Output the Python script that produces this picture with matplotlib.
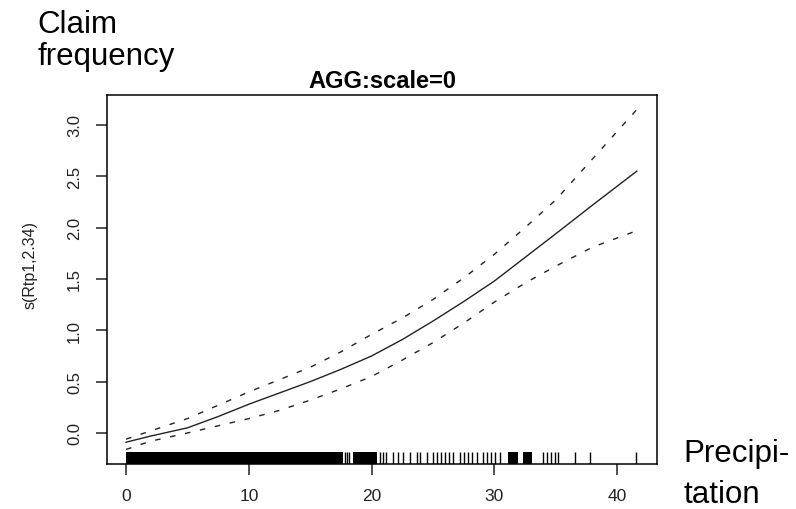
import matplotlib
matplotlib.use("Agg")
import matplotlib.pyplot as plt

plt.rcParams['font.family'] = ['Liberation Sans', 'DejaVu Sans']

# smooth term and its +-2se band
precip = [0, 1, 2, 3.5, 5, 7.5, 10, 12.5, 15, 17.5, 20, 22.5, 25, 27.5,
          30, 32.5, 35, 38, 41.6]
fit = [-0.09, -0.06, -0.03, 0.01, 0.05, 0.16, 0.28, 0.39, 0.50, 0.62, 0.75,
       0.91, 1.09, 1.28, 1.48, 1.71, 1.94, 2.22, 2.55]
upper = [-0.06, -0.02, 0.02, 0.08, 0.14, 0.27, 0.40, 0.52, 0.64, 0.79, 0.96,
         1.12, 1.30, 1.51, 1.74, 2.00, 2.27, 2.67, 3.15]
lower = [-0.16, -0.12, -0.08, -0.04, 0.00, 0.07, 0.14, 0.22, 0.32, 0.43,
         0.55, 0.71, 0.88, 1.07, 1.275, 1.46, 1.625, 1.81, 1.97]

# rug: solid runs of observations and single observations
rug_runs = [(0.0, 17.7), (18.5, 20.45), (31.1, 31.9), (32.3, 33.1)]
rug_ticks = [17.83, 18.0, 18.16, 20.68, 20.93, 21.17, 21.74, 22.15, 22.56,
             23.13, 23.70, 23.94, 24.51, 25.0, 25.33, 25.65, 25.98, 26.30,
             26.63, 27.2, 27.52, 27.85, 28.18, 28.58, 29.07, 29.4, 29.72,
             30.05, 30.46, 33.96, 34.28, 34.61, 34.94, 35.18, 36.56, 37.79,
             41.53]

xticks = [0, 10, 20, 30, 40]
yticks = [0.0, 0.5, 1.0, 1.5, 2.0, 2.5, 3.0]

W, H = 796, 510
fig = plt.figure(figsize=(W / 100, H / 100), dpi=100)
ax = fig.add_axes([107 / W, (H - 465) / H, (657 - 107) / W, (465 - 96) / H])

ax.plot(precip, fit, color='#222222', lw=1.0)
ax.plot(precip, upper, color='#222222', lw=1.0, linestyle=(0, (4, 7)))
ax.plot(precip, lower, color='#222222', lw=1.0, linestyle=(0, (4, 7)))

# rug along the bottom
trans = ax.get_xaxis_transform()
for a, b in rug_runs:
    ax.fill_between([a, b], 0, 0.033, transform=trans, color='black', lw=0)
ax.vlines(rug_ticks, 0, 0.033, transform=trans, color='black', lw=1.0)

ax.set_xlim(-1.55, 43.24)
ax.set_ylim(-0.302, 3.291)
ax.set_xticks(xticks)
ax.set_xticklabels([str(t) for t in xticks])
ax.set_yticks(yticks)
ax.set_yticklabels([f"{t:.1f}" for t in yticks], rotation=90, va='center')

for s in ax.spines.values():
    s.set_linewidth(1.1)
ax.tick_params(direction='out', length=8, width=1.1, colors='#222222')
ax.tick_params(axis='x', pad=9.5, labelsize=12.5)
ax.tick_params(axis='y', pad=10, labelsize=12)

ax.set_ylabel('s(Rtp1,2.34)', fontsize=11.5, color='#222222')
ax.yaxis.set_label_coords(-0.127, 0.542)
ax.set_title('AGG:scale=0', fontsize=17, fontweight='bold', pad=5.8)

fig.text(37 / W, 1 - 33 / H, 'Claim', fontsize=22.5, va='baseline', ha='left')
fig.text(37 / W, 1 - 65 / H, 'frequency', fontsize=22.5, va='baseline',
         ha='left')
fig.text(683 / W, 1 - 462 / H, 'Precipi-', fontsize=22.5, va='baseline',
         ha='left')
fig.text(683 / W, 1 - 503 / H, 'tation', fontsize=22.5, va='baseline',
         ha='left')

fig.savefig('out.png', dpi=100)
